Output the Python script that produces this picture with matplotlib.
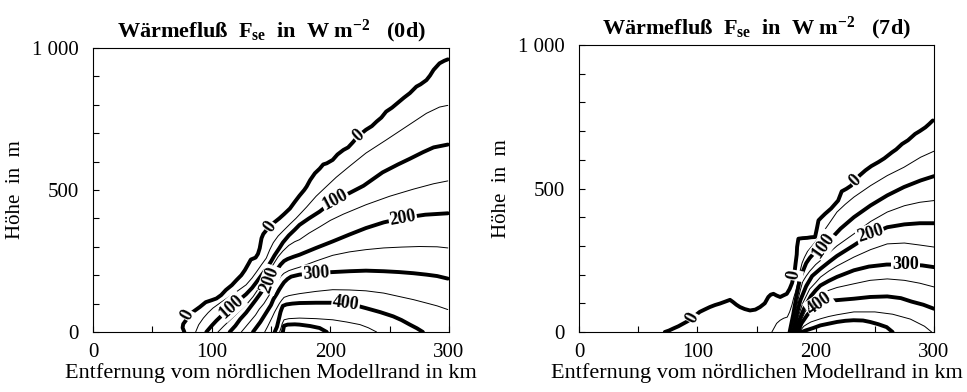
import matplotlib
matplotlib.use('Agg')
import matplotlib.pyplot as plt
from matplotlib.ticker import MultipleLocator, FuncFormatter

plt.rcParams['font.family'] = ['Liberation Serif', 'DejaVu Serif']
plt.rcParams['mathtext.fontset'] = 'custom'
plt.rcParams['mathtext.rm'] = 'Liberation Serif'
plt.rcParams['mathtext.bf'] = 'Liberation Serif:bold'
plt.rcParams['mathtext.it'] = 'Liberation Serif:italic'

# ---------------- data: contour lines (km, m) ----------------
levels = [0, 50, 100, 150, 200, 250, 300, 350, 400, 450, 500]

# Day 0
day0_000 = [(77,0),(75.5,15),(76,28),(79,45),(84,70),(90,88),(95,105),(100,112),(104,118),(108,130),(112,148),(117,165),(121,183),(125,200),(128,218),(131,240),(133,255),(137,262),(139,275),(140.5,295),(142,330),(143.5,345),(146,358),(151,380),(157,400),(161,415),(166,435),(170,458),(174,480),(178,500),(180,512),(183,535),(187,559),(191,575),(194,590),(197,594),(202,606),(206,625),(211,641),(215,650),(219,668),(223,688),(230,712),(235,725),(239,741),(243,755),(247,776),(252,790),(258,811),(262,825),(267,841),(272.5,864),(276,872),(281,887),(284,903),(287,923),(292,946),(296,955),(299,960)]
day0_050 = [(86.5,0),(89,25),(93,49),(97,68),(101,84),(108,105),(115,125),(122,145),(129,166),(134,190),(138,213),(142,237),(146,260),(149,290),(152,315),(156,338),(160,355),(166,380),(171,400),(180,440),(188,478),(196.6,512),(205,545),(216,583),(230,630),(247,676),(264,723),(281,770),(292,792),(299,798)]
day0_100 = [(95.5,0),(100,22),(104,40),(109,60),(116.6,90),(123,112),(129,133),(134,155),(138,177),(142,200),(146,222),(150,248),(153,270),(157,295),(160,315),(165,340),(170,360),(174,377),(182,400),(191,424),(198,447),(204,465),(216,489),(228,515),(244,562),(257,590),(267,610),(278,633),(287,650),(299,660)]
day0_150 = [(105.3,0),(110,20),(115,40),(120,60),(125,80),(130,100),(135,125),(139,150),(143,175),(147,200),(150,225),(153,245),(156,265),(160,285),(165,305),(170,318),(174,325),(182,348),(191,370),(200,393),(211,415),(230,448),(250,478),(270,503),(287,522),(299,532)]
day0_200 = [(115.2,0),(120,22),(124,45),(129,68),(133,90),(137,112),(141,135),(144,155),(147,175),(150,192),(153,208),(156,225),(158,237),(161,250),(164,257),(169,265),(174,272),(188,296),(202,319),(216,343),(230,366),(245,386),(262,402),(280,413),(299,418)]
day0_250 = [(125,0),(129,20),(133,40),(137,60),(140,80),(144,100),(147,120),(150,140),(153,160),(156,180),(158,195),(161,207),(165,216),(170,223),(174,228),(188,250),(202,270),(216,282),(230,290),(245,296),(260,299),(275,301),(290,300),(299,296)]
day0_300 = [(134.8,0),(138,18),(141,35),(144,55),(147,75),(150,95),(152,115),(155,135),(157,150),(159,163),(161,175),(164,187),(167,195),(171,199),(174,202),(188,208),(202,211),(216,214),(230,216),(245,214),(258,211),(270,207),(281,202),(290,197),(299,188)]
day0_350 = [(144.7,0),(147,18),(149,35),(151,52),(153,70),(155,85),(157,100),(159,112),(161,122),(165,128),(170,132),(174,135),(188,143),(202,149),(216,148),(230,145),(245,137),(258,125),(270,114),(281,102),(290,92),(299,79)]
day0_400 = [(153.1,0),(155,18),(156,35),(157,52),(158,70),(159,82),(160,92),(163,97),(168,100),(174,102),(188,103),(200,103),(213,101),(222,93),(230,84),(242,70),(253,55),(260,42),(267,26),(273,13),(278,0)]
day0_450 = [(157.3,0),(158.5,15),(159.5,30),(161,43),(165,47),(174,49),(188,47),(202,43),(214,35),(225,26),(232,15),(239,0)]
day0_500 = [(160,0),(160.5,12),(161,22),(164,26),(170,27),(174,26),(183,21),(191,14),(197,0)]

day0_lines = [day0_000, day0_050, day0_100, day0_150, day0_200, day0_250,
              day0_300, day0_350, day0_400, day0_450, day0_500]

day0_label_text = ['0', '0', '0', '100', '100', '200', '200', '300', '400']
day0_label_x = [80, 149, 224, 116.6, 204, 149, 261, 188, 213]
day0_label_y = [60, 372, 690, 90, 465, 185, 401, 207, 101]
day0_label_rot = [62, 55, 42, 42, 28, 70, 10, 4, -8]

# Day 7
day7_000 = [(72.5,0),(76,5),(79.6,12),(84,20),(88,29),(92,38),(96,50),(99,60),(102,70),(106,78),(110.6,87),(115,94),(119,99),(123,105),(127.6,112),(130,105),(133,95),(136,87),(140,80),(144.5,75),(149,78),(153,87),(157,100),(160,122),(162,130),(164.3,133),(167,127),(170,122),(173,128),(175.6,133),(178,150),(180,170),(181.5,195),(182.5,220),(183,238),(184,270),(184.3,296),(185.4,325),(189,327),(192.8,328),(196,330),(199.5,331),(201,360),(202.4,389),(205,400),(208,412),(213,430),(219,458),(222,490),(226,499),(230,510),(233.4,528),(237,545),(242,563),(247,578),(253,592),(258,605),(264.5,626),(268,636),(273,655),(278,668),(284,690),(288,700),(292.7,713),(296,725),(299,737)]
day7_050 = [(163,0),(165,15),(167,30),(170,41),(173,48),(176,52),(178,70),(180,95),(181.5,120),(183,140),(184.5,165),(185.7,191),(187,215),(188.5,240),(190.5,260),(193,280),(196,295),(200,315),(204,335),(210,370),(218,418),(225,445),(232.3,470),(246.4,510),(260.5,545),(274.6,574),(288.7,609),(300,630)]
day7_100 = [(178,0),(179.5,30),(181,60),(182.5,95),(184,130),(185.5,160),(187,190),(189.5,215),(192,240),(195,258),(198,272),(202,288),(207,302),(213,325),(221,360),(232.3,400),(246.4,441),(260.5,476),(274.6,505),(288.7,528),(300,543)]
day7_150 = [(179.5,0),(181,30),(182.5,60),(184,90),(185.5,120),(187,145),(189,175),(192,195),(195,212),(200,235),(204,249),(211,275),(218,300),(232.3,342),(246.4,385),(260.5,418),(275,440),(288,452),(300,458)]
day7_200 = [(181,0),(182.5,30),(184,60),(185.5,85),(187,110),(189.5,135),(192,160),(197,195),(204,220),(211,243),(218,265),(232.3,302),(246.4,340),(260.5,365),(275,375),(288,379),(300,379)]
day7_250 = [(182,0),(183.5,25),(185,50),(187,75),(189,100),(192,125),(195,150),(200,172),(204,191),(211,212),(218,230),(232.3,261),(246.4,287),(260.5,307),(275,310),(288,303),(300,296)]
day7_300 = [(183,0),(184.5,20),(186,40),(188,60),(190,80),(193,103),(196,125),(200,145),(204,162),(211,178),(218,192),(232.3,215),(245,228),(260,235),(276,235),(290,232),(300,226)]
day7_350 = [(184,0),(185.5,18),(187,35),(189,52),(191,70),(194,88),(197,105),(201,120),(204,133),(211,145),(218,155),(232.3,168),(246,180),(260.5,185),(275,180),(288,170),(300,157)]
day7_400 = [(185,0),(186.5,15),(188,30),(190.5,45),(193,60),(196,75),(198,85),(203,99),(209,106),(215,110),(232.3,116),(246,122),(260.5,124),(272,118),(281,106),(291,95),(300,81)]
day7_450 = [(186.5,0),(188,10),(190,20),(193,28),(196,35),(204,46),(211,54),(218,60),(232.3,70),(250,70),(265,62),(280,45),(292,20),(298,0)]
day7_500 = [(188,0),(190,3),(192,6),(198,14),(204,23),(211,29),(218,35),(225,39),(232,41),(240,40),(246,35),(253,27),(260,17),(265,0)]

day7_lines = [day7_000, day7_050, day7_100, day7_150, day7_200, day7_250,
              day7_300, day7_350, day7_400, day7_450, day7_500]

day7_label_text = ['0', '0', '0', '100', '200', '300', '400']
day7_label_x = [96, 181.5, 233.5, 207, 246, 276, 203]
day7_label_y = [50, 198, 528, 302, 343, 235, 99]
day7_label_rot = [62, 80, 45, 55, 18, 0, 35]

x_ticks_major = [0, 100, 200, 300]
y_ticks_major = [0, 500, 1000]

titles = [r'Wärmefluß  $\mathbf{F_{se}}$  in  W m$^{\mathbf{-2}}$   (0d)',
          r'Wärmefluß  $\mathbf{F_{se}}$  in  W m$^{\mathbf{-2}}$   (7d)']
xlabel = 'Entfernung vom nördlichen Modellrand in km'
ylabel = 'Höhe  in  m'

# ---------------- figure ----------------
fig = plt.figure(figsize=(9.67, 3.92), dpi=100)
ax1 = fig.add_axes([93/967, 1-332/392, 356/967, 284/392])
ax2 = fig.add_axes([579/967, 1-332/392, 355/967, 287/392])

def fmt(v, pos):
    v = int(round(v))
    if v >= 1000:
        return '{:d} {:03d}'.format(v // 1000, v % 1000)
    return str(v)

def draw(ax, lines, ltxt, lx, ly, lr, title):
    for lev, pts in zip(levels, lines):
        xs = [p[0] for p in pts]
        ys = [p[1] for p in pts]
        thick = (lev % 100 == 0)
        ax.plot(xs, ys, color='black', lw=2.8 if thick else 0.7,
                solid_joinstyle='round', solid_capstyle='round', zorder=3)
    for s, x, y, r in zip(ltxt, lx, ly, lr):
        ax.text(x, y, s, rotation=r, rotation_mode='anchor', ha='center',
                va='center', fontsize=13, fontweight='bold', zorder=5,
                bbox=dict(boxstyle='square,pad=0.05', fc='white', ec='none'))
    ax.set_xlim(0, 300)
    ax.set_ylim(0, 1000)
    ax.set_xticks(x_ticks_major)
    ax.set_yticks(y_ticks_major)
    ax.xaxis.set_minor_locator(MultipleLocator(50))
    ax.yaxis.set_minor_locator(MultipleLocator(100))
    ax.yaxis.set_major_formatter(FuncFormatter(fmt))
    ax.tick_params(which='both', direction='in', top=False, right=False,
                   width=0.8, length=4, labelsize=15)
    ax.tick_params(axis='y', pad=10)
    ax.tick_params(axis='x', pad=8)
    for sp in ax.spines.values():
        sp.set_linewidth(0.8)
    ax.set_title(title, fontsize=16, fontweight='bold', pad=8)
    ax.set_xlabel(xlabel, fontsize=16, labelpad=1)
    ax.set_ylabel(ylabel, fontsize=15, labelpad=5)

draw(ax1, day0_lines, day0_label_text, day0_label_x, day0_label_y, day0_label_rot, titles[0])
draw(ax2, day7_lines, day7_label_text, day7_label_x, day7_label_y, day7_label_rot, titles[1])

fig.savefig('out.png', dpi=100)
